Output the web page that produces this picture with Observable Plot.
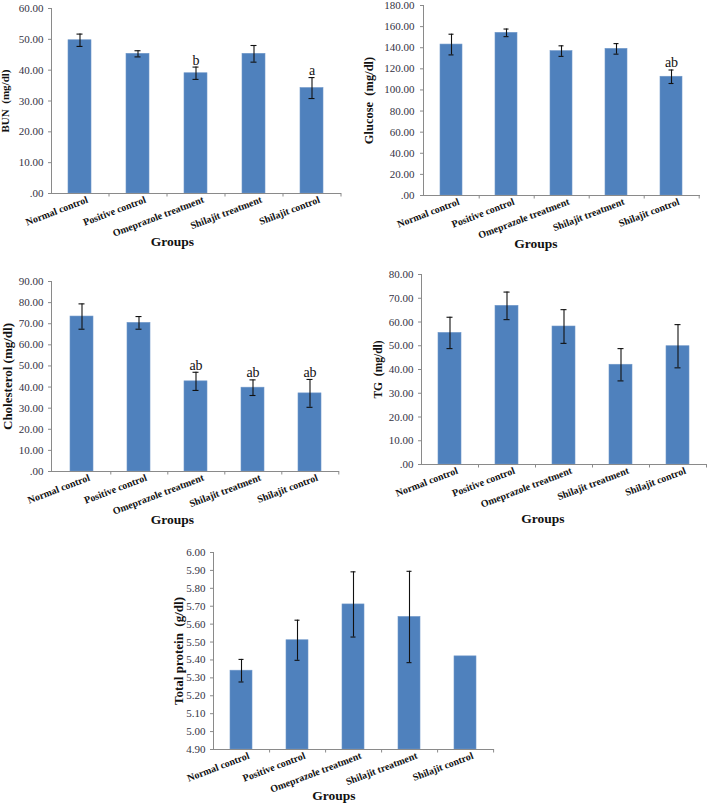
<!DOCTYPE html>
<html>
<head>
<meta charset="utf-8">
<script src="https://cdn.jsdelivr.net/npm/d3@7"></script>
<script src="https://cdn.jsdelivr.net/npm/@observablehq/plot@0.6"></script>
<style>
  html, body { margin: 0; padding: 0; background: #fff; }
  #wrap { position: relative; width: 709px; height: 804px; overflow: hidden; background: #fff; }
  #wrap > div { position: absolute; }
</style>
</head>
<body>
<div id="wrap"></div>
<script>
// ---------- data ----------
const groups = ["Normal control", "Positive control", "Omeprazole treatment", "Shilajit treatment", "Shilajit control"];

const bunMean = [49.7, 45.3, 39.0, 45.3, 34.2];
const bunSD   = [2.0, 1.0, 2.0, 2.7, 3.4];
const bunSig  = ["", "", "b", "", "a"];
const bunTicks = [0, 10, 20, 30, 40, 50, 60];

const glucoseMean = [143.0, 154.1, 136.8, 138.9, 112.5];
const glucoseSD   = [9.8, 3.6, 5.0, 5.0, 6.4];
const glucoseSig  = ["", "", "", "", "ab"];
const glucoseTicks = [0, 20, 40, 60, 80, 100, 120, 140, 160, 180];

const cholMean = [73.4, 70.4, 42.7, 39.7, 37.0];
const cholSD   = [6.0, 3.0, 4.3, 3.7, 6.6];
const cholSig  = ["", "", "ab", "ab", "ab"];
const cholTicks = [0, 10, 20, 30, 40, 50, 60, 70, 80, 90];

const tgMean = [55.4, 66.8, 58.1, 42.0, 49.8];
const tgSD   = [6.6, 5.8, 7.1, 6.8, 9.1];
const tgSig  = ["", "", "", "", ""];
const tgTicks = [0, 10, 20, 30, 40, 50, 60, 70, 80];

const tpMean = [5.34, 5.51, 5.71, 5.64, 5.42];
const tpSD   = [0.063, 0.112, 0.182, 0.255, 0];
const tpSig  = ["", "", "", "", ""];
const tpTicks = [4.9, 5.0, 5.1, 5.2, 5.3, 5.4, 5.5, 5.6, 5.7, 5.8, 5.9, 6.0];

// ---------- drawing ----------
const serif = "'Liberation Serif', 'Times New Roman', serif";
const fmt = d => (Math.abs(d) < 1e-9 ? ".00" : d.toFixed(2));

function panel(cfg) {
  const data = groups.map((g, i) => ({group: g, mean: cfg.mean[i], sd: cfg.sd[i], sig: cfg.sig[i]}));
  const withSd = data.filter(d => d.sd > 0);
  const yMin = cfg.ticks[0], yMax = cfg.ticks[cfg.ticks.length - 1];
  const step = (cfg.width - cfg.ml - cfg.mr) / groups.length;
  const chart = Plot.plot({
    width: cfg.width,
    height: cfg.height,
    marginLeft: cfg.ml, marginRight: cfg.mr, marginTop: cfg.mt, marginBottom: cfg.mb,
    style: {fontFamily: serif, background: "transparent", overflow: "visible"},
    x: {domain: groups, paddingInner: 0.6, paddingOuter: 0.3, axis: null},
    y: {domain: [yMin, yMax], axis: null},
    marks: [
      Plot.barY(data, {x: "group", y1: () => yMin, y2: "mean", fill: "#4f81bd", stroke: "#6f97c9", strokeWidth: 0.6}),
      Plot.ruleX(withSd, {x: "group", y1: d => d.mean - d.sd, y2: d => d.mean + d.sd, stroke: "#111", strokeWidth: 1.1}),
      Plot.tickY(withSd, {x: "group", y: d => d.mean + d.sd, stroke: "#111", strokeWidth: 1.1, insetLeft: 8.5, insetRight: 8.5}),
      Plot.tickY(withSd, {x: "group", y: d => d.mean - d.sd, stroke: "#111", strokeWidth: 1.1, insetLeft: 8.5, insetRight: 8.5}),
      Plot.text(data.filter(d => d.sig), {x: "group", y: d => d.mean + d.sd, text: "sig", dy: -7, fontSize: 14, fontFamily: serif, fill: "#111"}),
      Plot.frame({anchor: "left", stroke: "#8a8a8a"}),
      Plot.ruleY([yMin], {stroke: "#8a8a8a"}),
      // category boundary tick marks below the x axis
      Plot.ruleX(groups, {x: d => d, y1: () => yMin, y2: () => yMin, insetBottom: -3.5, dx: step / 2, stroke: "#8a8a8a"}),
      Plot.axisY({ticks: cfg.ticks, tickFormat: fmt, tickSize: 3, tickPadding: cfg.tp ?? 5, fontSize: 11, fontFamily: serif, fill: "#333344", stroke: "#8a8a8a", label: null}),
      Plot.axisX({tickRotate: -21, tickSize: 0, tickPadding: 2, textAnchor: "end", lineAnchor: "top", dx: 6, fontSize: 10, fontWeight: "bold", fontFamily: serif, fill: "#111", label: null}),
      Plot.text([cfg.yLabel], {frameAnchor: "left", textAnchor: "middle", lineAnchor: "middle", rotate: -90, dx: cfg.ylDx, text: d => d, fontSize: cfg.ylSize, fontWeight: "bold", fontFamily: serif, fill: "#111"}),
      Plot.text(["Groups"], {frameAnchor: "bottom", textAnchor: "middle", lineAnchor: "middle", dx: cfg.gDx, dy: cfg.gDy, text: d => d, fontSize: 13.5, fontWeight: "bold", fontFamily: serif, fill: "#111"})
    ]
  });
  const holder = document.createElement("div");
  holder.style.left = cfg.left + "px";
  holder.style.top = cfg.top + "px";
  holder.appendChild(chart);
  document.getElementById("wrap").appendChild(holder);
}

panel({mean: bunMean, sd: bunSD, sig: bunSig, ticks: bunTicks, yLabel: "BUN  (mg/dl)",
  left: 0, top: 0, width: 355, height: 258, ml: 51, mr: 14, mt: 8, mb: 65,
  ylDx: -46, ylSize: 11, gDx: -24, gDy: 48});

panel({mean: glucoseMean, sd: glucoseSD, sig: glucoseSig, ticks: glucoseTicks, yLabel: "Glucose  (mg/dl)",
  left: 355, top: 0, width: 354, height: 258, ml: 68, mr: 9, mt: 5, mb: 63, tp: 6,
  ylDx: -55, ylSize: 12.5, gDx: -26, gDy: 48});

panel({mean: cholMean, sd: cholSD, sig: cholSig, ticks: cholTicks, yLabel: "Cholesterol (mg/dl)",
  left: 0, top: 270, width: 355, height: 260, ml: 51, mr: 16, mt: 11, mb: 59,
  ylDx: -44, ylSize: 13, gDx: -23, gDy: 48});

panel({mean: tgMean, sd: tgSD, sig: tgSig, ticks: tgTicks, yLabel: "TG  (mg/dl)",
  left: 355, top: 270, width: 354, height: 260, ml: 66, mr: 3, mt: 4, mb: 66,
  ylDx: -43, ylSize: 11.5, gDx: -21, gDy: 54});

panel({mean: tpMean, sd: tpSD, sig: tpSig, ticks: tpTicks, yLabel: "Total protein  (g/dl)",
  left: 170, top: 540, width: 370, height: 264, ml: 43, mr: 46, mt: 12, mb: 55,
  ylDx: -35, ylSize: 13, gDx: -20, gDy: 46});
</script>
</body>
</html>
